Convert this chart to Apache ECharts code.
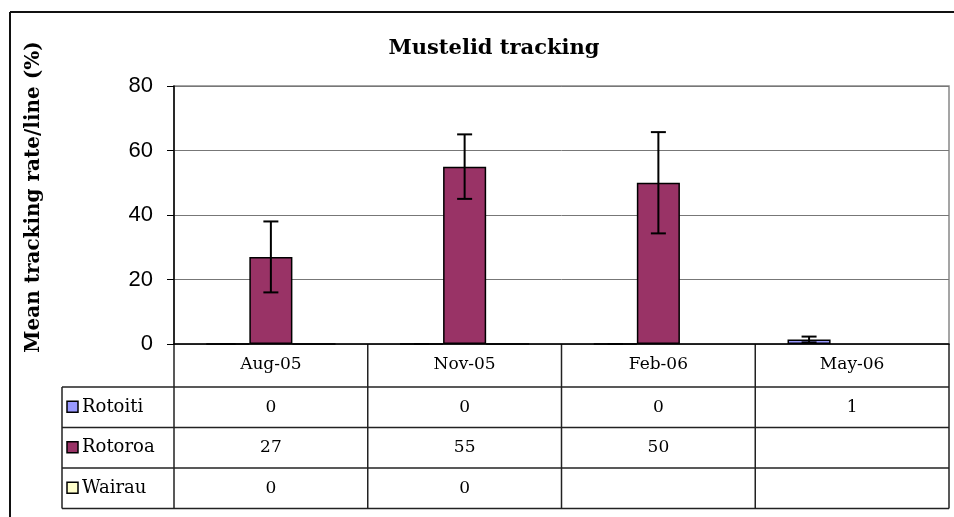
<!DOCTYPE html>
<html>
<head>
<meta charset="utf-8">
<script src="https://cdn.jsdelivr.net/npm/echarts@6/dist/echarts.min.js"></script>
<style>
html, body { margin: 0; padding: 0; background: #fff; }
#main { width: 954px; height: 517px; }
</style>
</head>
<body>
<div id="main"></div>
<script>
var categories = ['Aug-05', 'Nov-05', 'Feb-06', 'May-06'];
var seriesNames = ['Rotoiti', 'Rotoroa', 'Wairau'];
var seriesColors = ['#9999FF', '#993366', '#FFFFCC'];
var rotoiti = [0, 0, 0, 1.4];
var rotoroa = [27, 55, 50, null];
var wairau = [0, 0, null, null];
// error bar half-widths (null = none drawn)
var rotoitiErr = [0, 0, 0, 0.9];
var rotoroaErr = [11, 10, 15.7, null];
var wairauErr = [null, null, null, null];
var yTicks = [0, 20, 40, 60, 80];

var values = [rotoiti, rotoroa, wairau];
var errs = [rotoitiErr, rotoroaErr, wairauErr];
var serif = '"DejaVu Serif", "Liberation Serif", serif';

var dom = document.getElementById('main');
var myChart = echarts.init(dom);

function errData(vals, e) {
	var out = [];
	for (var i = 0; i < vals.length; i++) {
		if (vals[i] != null && e[i] != null) out.push([i, vals[i], e[i]]);
	}
	return out;
}

function errRender(pos) {
	return function (params, api) {
		var x = api.value(0), v = api.value(1), e = api.value(2);
		var band = api.size([1, 0], [x, v])[0];
		var bw = band / 4.5;
		var hi = api.coord([x, v + e]);
		var lo = api.coord([x, Math.max(v - e, 0)]);
		var cx = hi[0] + (pos - 1) * bw;
		var cap = 7.5;
		var st = { stroke: '#000', lineWidth: 2 };
		return {
			type: 'group',
			children: [
				{ type: 'line', shape: { x1: cx, y1: hi[1], x2: cx, y2: lo[1] }, style: st },
				{ type: 'line', shape: { x1: cx - cap, y1: hi[1], x2: cx + cap, y2: hi[1] }, style: st },
				{ type: 'line', shape: { x1: cx - cap, y1: lo[1], x2: cx + cap, y2: lo[1] }, style: st }
			]
		};
	};
}

var series = [];
for (var s = 0; s < 3; s++) {
	series.push({
		name: seriesNames[s],
		type: 'bar',
		data: values[s],
		barGap: '0%',
		barCategoryGap: '33.3%',
		itemStyle: { color: seriesColors[s], borderColor: '#000', borderWidth: 1.5 },
		silent: true
	});
}
for (var s2 = 0; s2 < 3; s2++) {
	series.push({
		type: 'custom',
		renderItem: errRender(s2),
		data: errData(values[s2], errs[s2]),
		z: 10,
		silent: true
	});
}

var option = {
	animation: false,
	title: {
		text: 'Mustelid tracking',
		left: 489,
		top: 33,
		textAlign: 'center',
		textStyle: { fontFamily: serif, fontWeight: 'bold', fontSize: 21, color: '#000' }
	},
	grid: {
		left: 174,
		right: 5,
		top: 86,
		bottom: 173,
		show: true,
		borderColor: '#888',
		borderWidth: 1.5
	},
	xAxis: {
		type: 'category',
		data: categories,
		axisLine: { lineStyle: { color: '#000', width: 1.5 } },
		axisTick: { show: false },
		axisLabel: { margin: 12, fontFamily: serif, fontSize: 17, color: '#000' }
	},
	yAxis: {
		type: 'value',
		min: 0,
		max: 80,
		interval: 20,
		axisLine: { show: true, lineStyle: { color: '#000', width: 1.5 } },
		axisTick: { show: true, length: 7, lineStyle: { color: '#000' } },
		axisLabel: {
			margin: 21,
			fontFamily: '"Liberation Sans", Arial, sans-serif',
			fontSize: 22,
			color: '#000',
			formatter: function (v) { return yTicks.indexOf(v) >= 0 ? String(v) : ''; }
		},
		splitLine: { lineStyle: { color: '#777', width: 1 } }
	},
	series: series
};

if (option && typeof option === "object") {
	myChart.setOption(option, true);
}

// data table under the axis, built from the same arrays
function buildTable() {
	var g = [];
	var centers = categories.map(function (c, i) {
		return myChart.convertToPixel({ xAxisIndex: 0 }, i);
	});
	var half = (centers[1] - centers[0]) / 2;
	var y0 = myChart.convertToPixel({ yAxisIndex: 0 }, 0);
	var headH = 43, rowH = 40.5;
	var left = 62;
	var right = centers[centers.length - 1] + half;
	var bottom = y0 + headH + rowH * 3;
	var ln = { stroke: '#222', lineWidth: 1.5 };

	// frame of the chart area
	g.push({ type: 'line', shape: { x1: 10, y1: 12, x2: 954, y2: 12 }, style: { stroke: '#111', lineWidth: 2 } });
	g.push({ type: 'line', shape: { x1: 10, y1: 12, x2: 10, y2: 517 }, style: { stroke: '#111', lineWidth: 2 } });

	// y-axis title
	g.push({
		type: 'text', x: 34, y: 197, rotation: Math.PI / 2,
		style: {
			text: 'Mean tracking rate/line (%)', fontFamily: serif, fontWeight: 'bold', fontSize: 20,
			fill: '#000', align: 'center', verticalAlign: 'middle'
		}
	});

	// vertical lines
	for (var i = 0; i <= centers.length; i++) {
		var x = centers[0] - half + i * 2 * half;
		g.push({ type: 'line', shape: { x1: x, y1: y0, x2: x, y2: bottom }, style: ln });
	}
	g.push({ type: 'line', shape: { x1: left, y1: y0 + headH, x2: left, y2: bottom }, style: ln });
	// horizontal lines
	for (var r = 0; r <= 3; r++) {
		var yy = y0 + headH + r * rowH;
		g.push({ type: 'line', shape: { x1: left, y1: yy, x2: right, y2: yy }, style: ln });
	}
	// rows
	for (var s = 0; s < 3; s++) {
		var cy = y0 + headH + s * rowH + rowH / 2;
		g.push({
			type: 'rect', shape: { x: left + 5, y: cy - 6, width: 11, height: 11 },
			style: { fill: seriesColors[s], stroke: '#000', lineWidth: 1.5 }
		});
		g.push({
			type: 'text', x: left + 20, y: cy,
			style: { text: seriesNames[s], fontFamily: serif, fontSize: 18, fill: '#000', verticalAlign: 'middle' }
		});
		for (var c = 0; c < categories.length; c++) {
			var v = values[s][c];
			if (v == null) continue;
			g.push({
				type: 'text', x: centers[c], y: cy,
				style: { text: String(Math.round(v)), fontFamily: serif, fontSize: 17, fill: '#000', align: 'center', verticalAlign: 'middle' }
			});
		}
	}
	myChart.setOption({ graphic: g });
}
buildTable();
</script>
</body>
</html>
